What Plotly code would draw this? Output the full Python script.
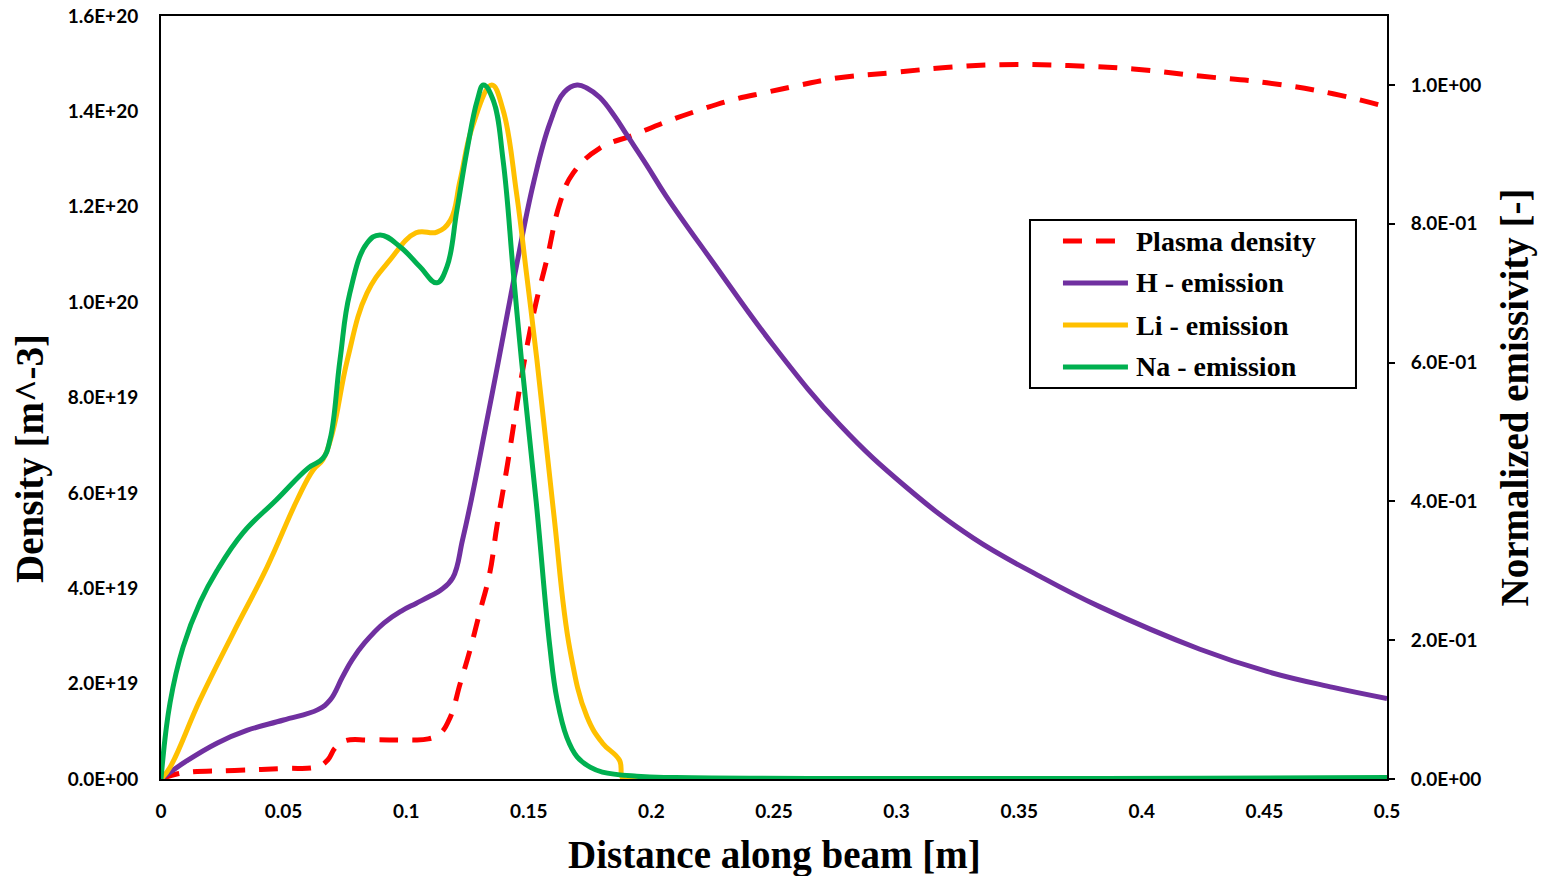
import plotly.graph_objects as go

# ---------------- data ----------------
plasma_x = [0, 0.006, 0.013, 0.03, 0.05, 0.064, 0.068, 0.071, 0.075, 0.085, 0.1, 0.109,
            0.114, 0.118, 0.122, 0.126, 0.13, 0.134, 0.137, 0.141, 0.145, 0.149, 0.153,
            0.1573, 0.1627, 0.168, 0.179, 0.1925, 0.206, 0.2198, 0.233, 0.247, 0.2606,
            0.2757, 0.3, 0.32, 0.342, 0.37, 0.3965, 0.4237, 0.451, 0.478, 0.5]
plasma_d = [0.0, 0.10, 0.15, 0.18, 0.22, 0.26, 0.40, 0.65, 0.80, 0.82, 0.82, 0.84,
            0.96, 1.3, 2.0, 2.7, 3.5, 4.3, 5.3, 6.5, 7.8, 9.0, 10.0,
            10.88, 12.08, 12.7, 13.23, 13.5, 13.78, 14.03, 14.24, 14.4, 14.55,
            14.7, 14.82, 14.92, 14.98, 14.96, 14.89, 14.74, 14.6, 14.37, 14.09]  # x1e19 m^-3

h_x = [0, 0.01, 0.023, 0.035, 0.05, 0.064, 0.069, 0.074, 0.078, 0.083, 0.091, 0.098,
       0.104, 0.11, 0.114, 0.119, 0.123, 0.127, 0.132, 0.1375, 0.1415, 0.145, 0.152,
       0.1586, 0.1645, 0.1697, 0.174, 0.179, 0.185, 0.19, 0.198, 0.206, 0.225, 0.2497,
       0.2769, 0.3041, 0.3313, 0.3585, 0.383, 0.4237, 0.451, 0.478, 0.5]
h_e = [0, 0.025, 0.052, 0.07, 0.085, 0.10, 0.114, 0.147, 0.172, 0.196, 0.225, 0.242,
       0.253, 0.264, 0.272, 0.29, 0.345, 0.41, 0.50, 0.60, 0.675, 0.74, 0.86,
       0.945, 0.99, 1.0, 0.995, 0.982, 0.955, 0.928, 0.885, 0.84, 0.745, 0.625,
       0.51, 0.42, 0.347, 0.292, 0.248, 0.187, 0.155, 0.132, 0.116]

li_x = [0, 0.0037, 0.0159, 0.0294, 0.0432, 0.0555, 0.062, 0.066, 0.07, 0.076, 0.084,
        0.0934, 0.104, 0.1125, 0.118, 0.122, 0.127, 0.1349, 0.1395, 0.145, 0.149,
        0.1533, 0.16, 0.1668, 0.1737, 0.18, 0.187, 0.1885, 0.195, 0.5]
li_e = [0, 0.017, 0.114, 0.21, 0.305, 0.402, 0.445, 0.46, 0.50, 0.604, 0.70,
        0.748, 0.787, 0.788, 0.805, 0.863, 0.94, 1.0, 0.964, 0.844, 0.73,
        0.604, 0.388, 0.186, 0.09, 0.052, 0.027, 0.0, 0.0, 0.0]

na_x = [0, 0.0037, 0.009, 0.016, 0.0228, 0.0335, 0.047, 0.06, 0.066, 0.069, 0.073,
        0.077, 0.084, 0.0893, 0.0975, 0.1056, 0.1125, 0.1166, 0.1207, 0.1248, 0.129,
        0.1315, 0.1355, 0.1395, 0.1437, 0.147, 0.153, 0.1586, 0.1615, 0.1655, 0.1697,
        0.175, 0.18, 0.194, 0.21, 0.5]
na_e = [0, 0.11, 0.19, 0.255, 0.30, 0.355, 0.402, 0.448, 0.462, 0.49, 0.604,
        0.70, 0.772, 0.784, 0.767, 0.738, 0.715, 0.738, 0.82, 0.906, 0.978,
        1.0, 0.978, 0.892, 0.729, 0.604, 0.40, 0.19, 0.115, 0.06, 0.032,
        0.017, 0.01, 0.004, 0.002, 0.002]

series_names = ["Plasma density", "H - emission", "Li - emission", "Na - emission"]
series_colors = ["#FF0000", "#7030A0", "#FFC000", "#00B050"]

x_ticks = [0, 0.05, 0.1, 0.15, 0.2, 0.25, 0.3, 0.35, 0.4, 0.45, 0.5]
x_ticktext = ["0", "0.05", "0.1", "0.15", "0.2", "0.25", "0.3", "0.35", "0.4", "0.45", "0.5"]
y1_ticks = [0, 2e19, 4e19, 6e19, 8e19, 1e20, 1.2e20, 1.4e20, 1.6e20]
y1_ticktext = ["0.0E+00", "2.0E+19", "4.0E+19", "6.0E+19", "8.0E+19",
               "1.0E+20", "1.2E+20", "1.4E+20", "1.6E+20"]
y2_ticks = [0, 0.2, 0.4, 0.6, 0.8, 1.0]
y2_ticktext = ["0.0E+00", "2.0E-01", "4.0E-01", "6.0E-01", "8.0E-01", "1.0E+00"]

# ---------------- figure ----------------
SMOOTH = 1.2
LW = 5
DASH = "19px,14px"
tick_font = dict(family="Lato", size=19, color="black", weight="bold")
title_font = dict(family="Liberation Serif", size=39, color="black", weight="bold")
legend_font = dict(family="Liberation Serif", size=28, color="black", weight="bold")

fig = go.Figure()
fig.add_trace(go.Scatter(x=plasma_x, y=[v * 1e19 for v in plasma_d], name=series_names[0],
                         mode="lines",
                         line=dict(color=series_colors[0], width=LW, dash=DASH,
                                   shape="spline", smoothing=SMOOTH)))
for xs, ys, nm, col in [(h_x, h_e, series_names[1], series_colors[1]),
                        (li_x, li_e, series_names[2], series_colors[2]),
                        (na_x, na_e, series_names[3], series_colors[3])]:
    fig.add_trace(go.Scatter(x=xs, y=ys, name=nm, yaxis="y2", mode="lines",
                             line=dict(color=col, width=LW, shape="spline", smoothing=SMOOTH)))

# ---- custom legend box (paper coordinates) ----
leg_x0, leg_x1, leg_y0, leg_y1 = 0.7088, 0.9747, 0.5124, 0.7326
row_y = [0.7051, 0.6501, 0.5950, 0.5400]
sample_x0, sample_x1, text_x = 0.7357, 0.7887, 0.7936
shapes = [dict(type="rect", xref="paper", yref="paper", x0=leg_x0, x1=leg_x1,
               y0=leg_y0, y1=leg_y1, line=dict(color="black", width=2),
               fillcolor="white", layer="above")]
annotations = []
for i, (nm, col) in enumerate(zip(series_names, series_colors)):
    shapes.append(dict(type="line", xref="paper", yref="paper", x0=sample_x0, x1=sample_x1,
                       y0=row_y[i], y1=row_y[i], layer="above",
                       line=dict(color=col, width=LW, dash=DASH if i == 0 else "solid")))
    annotations.append(dict(xref="paper", yref="paper", x=text_x, y=row_y[i], text=nm,
                            showarrow=False, xanchor="left", yanchor="middle",
                            font=legend_font))

# ---- axis titles ----
annotations += [
    dict(xref="paper", yref="paper", x=0.5, y=-0.0996, text="Distance along beam [m]",
         showarrow=False, xanchor="center", yanchor="middle", font=title_font),
    dict(xref="paper", yref="paper", x=-0.1069, y=0.4207, text="Density [m^-3]",
         showarrow=False, xanchor="center", yanchor="middle", textangle=-90, font=title_font),
    dict(xref="paper", yref="paper", x=1.1044, y=0.5, text="Normalized emissivity [-]",
         showarrow=False, xanchor="center", yanchor="middle", textangle=-90, font=title_font),
]

fig.update_layout(
    width=1542, height=876,
    margin=dict(l=161, r=155, t=16, b=97, autoexpand=False),
    paper_bgcolor="white", plot_bgcolor="white",
    showlegend=False,
    shapes=shapes, annotations=annotations,
    xaxis=dict(range=[0, 0.5], tickvals=x_ticks, ticktext=x_ticktext, automargin=False,
               showgrid=False, zeroline=False, showline=True, linecolor="black",
               linewidth=2, mirror=True, ticks="", tickfont=tick_font,
               ticklabelstandoff=14),
    yaxis=dict(range=[0, 1.6e20], tickvals=y1_ticks, ticktext=y1_ticktext, automargin=False,
               showgrid=False, zeroline=False, showline=True, linecolor="black",
               linewidth=2, ticks="", tickfont=tick_font, ticklabelstandoff=17),
    yaxis2=dict(range=[0, 763 / 694], overlaying="y", side="right", automargin=False,
                tickvals=y2_ticks, ticktext=y2_ticktext,
                showgrid=False, zeroline=False, showline=True, linecolor="black",
                linewidth=2, ticks="outside", ticklen=6, tickwidth=2, tickcolor="black",
                tickfont=tick_font, ticklabelstandoff=12),
)

fig.write_html("out.html")
